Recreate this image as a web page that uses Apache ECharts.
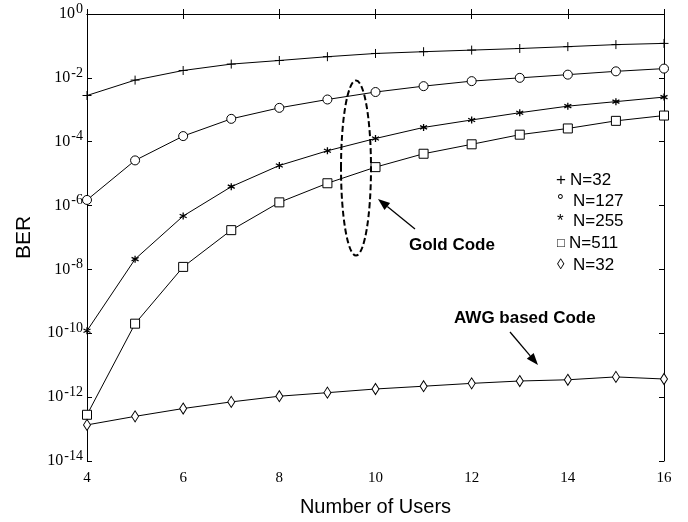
<!DOCTYPE html>
<html>
<head>
<meta charset="utf-8">
<script src="https://cdn.jsdelivr.net/npm/echarts@6/dist/echarts.min.js"></script>
<style>
  html, body { margin: 0; padding: 0; background: #fff; }
  #chart { width: 688px; height: 522px; }
</style>
</head>
<body>
<div id="chart"></div>
<script>
// Number of simultaneous users
const users = [4, 5, 6, 7, 8, 9, 10, 11, 12, 13, 14, 15, 16];

// Bit error rate per user count
const berGoldN32  = [2.8e-3, 8.5e-3, 1.7e-2, 2.7e-2, 3.5e-2, 4.6e-2, 5.8e-2, 6.6e-2, 7.4e-2, 8.3e-2, 9.5e-2, 1.1e-1, 1.2e-1];
const berGoldN127 = [1.5e-6, 2.6e-5, 1.5e-4, 5.2e-4, 1.15e-3, 2.1e-3, 3.6e-3, 5.5e-3, 7.9e-3, 1.0e-2, 1.26e-2, 1.6e-2, 1.95e-2];
const berGoldN255 = [1.2e-10, 2.1e-8, 4.7e-7, 3.9e-6, 1.8e-5, 5.2e-5, 1.26e-4, 2.8e-4, 4.8e-4, 8.1e-4, 1.3e-3, 1.8e-3, 2.5e-3];
const berGoldN511 = [2.8e-13, 2.0e-10, 1.2e-8, 1.7e-7, 1.26e-6, 5.0e-6, 1.6e-5, 4.2e-5, 8.3e-5, 1.66e-4, 2.6e-4, 4.5e-4, 6.6e-4];
const berAwgN32   = [1.35e-13, 2.5e-13, 4.4e-13, 7.1e-13, 1.07e-12, 1.38e-12, 1.8e-12, 2.2e-12, 2.7e-12, 3.2e-12, 3.5e-12, 4.3e-12, 3.7e-12];

// Axis ranges (y in decades)
const xMin = 4, xMax = 16, xStep = 2;
const yMinExp = -14, yMaxExp = 0, yStepExp = 2;

// Legend entries: marker glyph and caption
const legendGlyphs = ['+', '\u00B0', '*', '\u25A1', '\u25CA'];
const legendTexts  = ['N=32', 'N=127', 'N=255', 'N=511', 'N=32'];

const serif = '"Liberation Serif", "Times New Roman", serif';
const sans  = '"Liberation Sans", Arial, Helvetica, sans-serif';

function toPoints(ber) {
  return users.map((u, i) => [u, Math.log10(ber[i])]);
}

function lineSeries(name, ber, symbol, size, borderWidth) {
  return {
    name: name,
    type: 'line',
    data: toPoints(ber),
    symbol: symbol,
    symbolSize: size,
    showSymbol: true,
    clip: false,
    lineStyle: { color: '#000', width: 1 },
    itemStyle: { color: '#fff', borderColor: '#000', borderWidth: borderWidth || 1 },
    z: 3
  };
}

const plusPath = 'path://M0,5H10M5,0V10';
const starPath = 'path://M5,0V10M0.67,2.5L9.33,7.5M0.67,7.5L9.33,2.5';

// Arrow built from a shaft and a filled head
function arrow(x1, y1, x2, y2, headLen, headHalf) {
  const dx = x2 - x1, dy = y2 - y1;
  const len = Math.sqrt(dx * dx + dy * dy);
  const ux = dx / len, uy = dy / len;
  const bx = x2 - ux * headLen, by = y2 - uy * headLen;
  const px = -uy * headHalf, py = ux * headHalf;
  return [
    { type: 'line', shape: { x1: x1, y1: y1, x2: bx, y2: by },
      style: { stroke: '#000', lineWidth: 1.3 }, z: 10 },
    { type: 'polygon', shape: { points: [[x2, y2], [bx + px, by + py], [bx - px, by - py]] },
      style: { fill: '#000' }, z: 10 }
  ];
}

const legendRowY      = [180, 201, 221.5, 243.5, 265];
const legendGlyphX    = [556, 557, 557, 557, 557];
const legendGlyphSize = [17, 17, 17, 13, 15];
const legendTextX     = [570, 573, 573, 569, 573];

const legendGraphics = [];
legendTexts.forEach((t, i) => {
  legendGraphics.push({
    type: 'text', x: legendGlyphX[i], y: legendRowY[i], z: 10,
    style: { text: legendGlyphs[i], font: legendGlyphSize[i] + 'px ' + sans,
             fill: '#000', verticalAlign: 'middle', align: 'left' }
  });
  legendGraphics.push({
    type: 'text', x: legendTextX[i], y: legendRowY[i], z: 10,
    style: { text: t, font: '17px ' + sans, fill: '#000', verticalAlign: 'middle', align: 'left' }
  });
});

const chart = echarts.init(document.getElementById('chart'), null, { renderer: 'canvas' });

const mirrorAxisCommon = {
  axisLine: { show: true, lineStyle: { color: '#000', width: 1 } },
  axisTick: { show: true, inside: true, length: 5, lineStyle: { color: '#000', width: 1 } },
  axisLabel: { show: false },
  splitLine: { show: false }
};

chart.setOption({
  animation: false,
  backgroundColor: '#fff',
  grid: { left: 87, right: 24, top: 14, bottom: 54, containLabel: false },
  xAxis: [
    {
      type: 'value', position: 'bottom', min: xMin, max: xMax, interval: xStep,
      name: 'Number of Users', nameLocation: 'middle', nameGap: 36,
      nameTextStyle: { fontFamily: sans, fontSize: 20, color: '#000' },
      axisLine: { show: true, lineStyle: { color: '#000', width: 1 } },
      axisTick: { show: true, inside: true, length: 5, lineStyle: { color: '#000' } },
      axisLabel: { show: true, margin: 10, color: '#000', fontFamily: serif, fontSize: 15 },
      splitLine: { show: false }
    },
    Object.assign({ type: 'value', position: 'top', min: xMin, max: xMax, interval: xStep }, mirrorAxisCommon)
  ],
  yAxis: [
    {
      type: 'value', position: 'left', min: yMinExp, max: yMaxExp, interval: yStepExp,
      name: 'BER', nameLocation: 'middle', nameGap: 52, nameRotate: 90,
      nameTextStyle: { fontFamily: sans, fontSize: 21, color: '#000' },
      axisLine: { show: true, lineStyle: { color: '#000', width: 1 } },
      axisTick: { show: true, inside: true, length: 5, lineStyle: { color: '#000' } },
      axisLabel: {
        show: true, margin: 4, color: '#000',
        formatter: v => '{b|10}{s|' + Math.round(v) + '}',
        rich: {
          b: { fontFamily: serif, fontSize: 16, color: '#000' },
          s: { fontFamily: serif, fontSize: 14, color: '#000', padding: [0, 0, 10, 1] }
        }
      },
      splitLine: { show: false }
    },
    Object.assign({ type: 'value', position: 'right', min: yMinExp, max: yMaxExp, interval: yStepExp }, mirrorAxisCommon)
  ],
  series: [
    lineSeries('Gold N=32', berGoldN32, plusPath, 9, 1),
    lineSeries('Gold N=127', berGoldN127, 'circle', 9, 1),
    lineSeries('Gold N=255', berGoldN255, starPath, 7, 1.3),
    lineSeries('Gold N=511', berGoldN511, 'rect', 9, 1),
    lineSeries('AWG N=32', berAwgN32, 'diamond', [7, 11], 1)
  ],
  graphic: [
    // dashed ring grouping the Gold code curves
    { type: 'ellipse', shape: { cx: 356, cy: 168, rx: 15, ry: 87.5 }, z: 9,
      style: { fill: 'none', stroke: '#000', lineWidth: 2, lineDash: [6, 3] } },
    { type: 'text', x: 409, y: 245.5, z: 10,
      style: { text: 'Gold Code', font: 'bold 17px ' + sans, fill: '#000', verticalAlign: 'middle', align: 'left' } },
    { type: 'text', x: 454, y: 318.5, z: 10,
      style: { text: 'AWG based Code', font: 'bold 17px ' + sans, fill: '#000', verticalAlign: 'middle', align: 'left' } }
  ]
    .concat(arrow(415, 229, 378, 199, 12, 4.5))
    .concat(arrow(510, 332, 538, 365, 12, 4.5))
    .concat(legendGraphics)
});
</script>
</body>
</html>
